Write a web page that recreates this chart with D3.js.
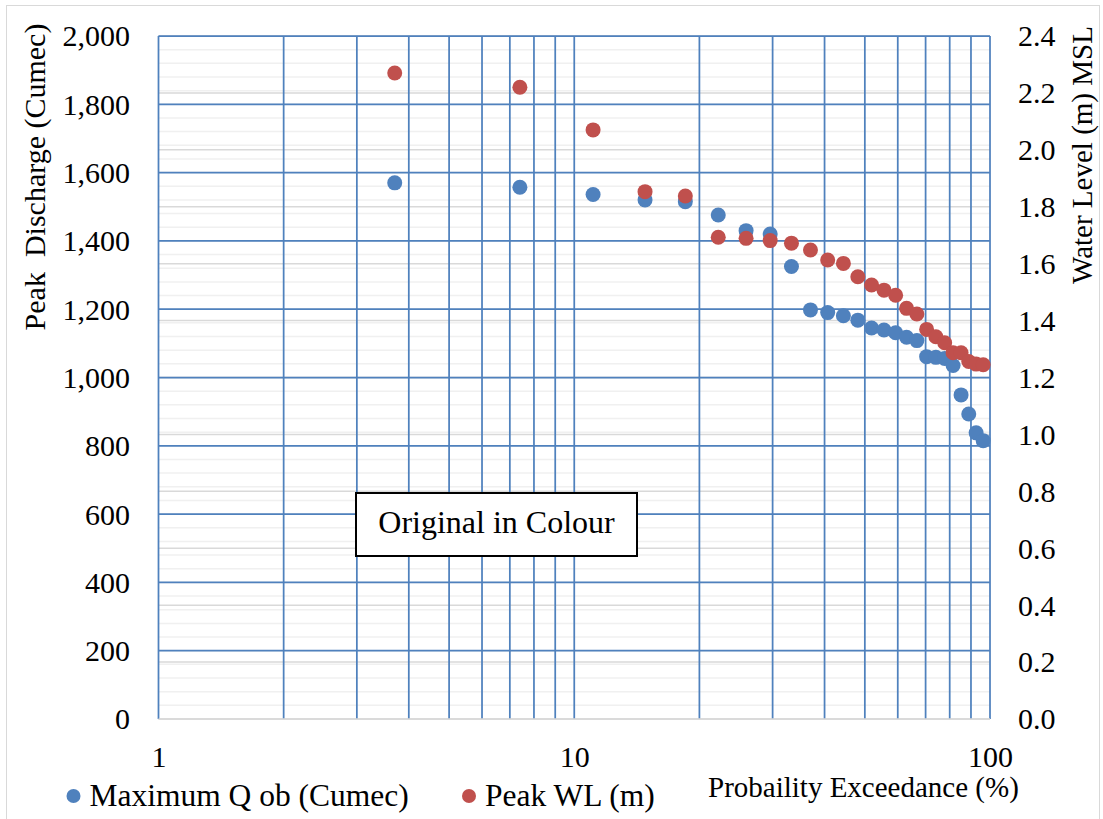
<!DOCTYPE html>
<html lang="en">
<head>
    <meta charset="UTF-8">
    <title>Peak Discharge and Water Level vs Probability Exceedance</title>
    <style>
        body {
            margin: 0;
            background: #fff;
        }
        svg text {
            font-family: "Liberation Serif", "Times New Roman", Times, "DejaVu Serif", serif !important;
            fill: #000;
        }
    </style>
    <script src="https://d3js.org/d3.v7.min.js"></script>
</head>
<body>
    <div id="chart"></div>

    <script>
        // Data
        const exceedance = [3.7, 7.4, 11.1, 14.8, 18.5, 22.2, 25.9, 29.6, 33.3, 37.0, 40.7, 44.4, 48.1,
                            51.9, 55.6, 59.3, 63.0, 66.7, 70.4, 74.1, 77.8, 81.5, 85.2, 88.9, 92.6, 96.3];
        const maxQ = [1570, 1557, 1536, 1520, 1515, 1476, 1430, 1420, 1325, 1198, 1190, 1181, 1168,
                      1145, 1139, 1131, 1118, 1108, 1061, 1059, 1056, 1035, 949, 893, 838, 815];
        const peakWL = [2.27, 2.22, 2.07, 1.853, 1.838, 1.693, 1.689, 1.681, 1.672, 1.648, 1.613, 1.601, 1.554,
                        1.525, 1.507, 1.489, 1.443, 1.423, 1.369, 1.343, 1.322, 1.287, 1.287, 1.256, 1.247, 1.245];

        const xTicks = [1, 10, 100];
        const xMinor = [2, 3, 4, 5, 6, 7, 8, 9, 20, 30, 40, 50, 60, 70, 80, 90];
        const leftTicks = [0, 200, 400, 600, 800, 1000, 1200, 1400, 1600, 1800, 2000];
        const leftMinor = d3.range(0, 2001, 40);
        const rightTicks = [0, 0.2, 0.4, 0.6, 0.8, 1.0, 1.2, 1.4, 1.6, 1.8, 2.0, 2.2, 2.4];

        const width = 1103;
        const height = 819;
        const blue = "#4F81BD";
        const red = "#C0504D";
        const gridBlue = "#4F81BD";
        const serif = '"Liberation Serif", "Times New Roman", Times, "DejaVu Serif", serif';

        const svg = d3.select("#chart")
            .append("svg")
            .attr("width", width)
            .attr("height", height)
            .attr("font-family", serif);

        // chart area border
        svg.append("rect")
            .attr("x", 6.5).attr("y", 5.5)
            .attr("width", 1093).attr("height", 830)
            .attr("fill", "#fff")
            .attr("stroke", "#D9D9D9")
            .attr("stroke-width", 1);

        const x = d3.scaleLog().domain([1, 100]).range([158.5, 990]);
        const yL = d3.scaleLinear().domain([0, 2000]).range([719, 36]);
        const yR = d3.scaleLinear().domain([0, 2.4]).range([719, 36]);

        // minor horizontal gridlines (left axis)
        svg.append("g").selectAll("line")
            .data(leftMinor)
            .enter().append("line")
            .attr("x1", x(1)).attr("x2", x(100))
            .attr("y1", d => yL(d)).attr("y2", d => yL(d))
            .attr("stroke", "#F0F0F0")
            .attr("stroke-width", 1.5);

        // right axis gridlines (gray)
        svg.append("g").selectAll("line")
            .data(rightTicks)
            .enter().append("line")
            .attr("x1", x(1)).attr("x2", x(100))
            .attr("y1", d => yR(d)).attr("y2", d => yR(d))
            .attr("stroke", "#D9D9D9")
            .attr("stroke-width", 1.5);

        // major horizontal gridlines (left axis)
        svg.append("g").selectAll("line")
            .data(leftTicks.filter(d => d > 0))
            .enter().append("line")
            .attr("x1", x(1)).attr("x2", x(100))
            .attr("y1", d => yL(d)).attr("y2", d => yL(d))
            .attr("stroke", gridBlue)
            .attr("stroke-width", 1.75);

        // vertical gridlines
        svg.append("g").selectAll("line")
            .data(xTicks.concat(xMinor))
            .enter().append("line")
            .attr("x1", d => x(d)).attr("x2", d => x(d))
            .attr("y1", yL(0)).attr("y2", yL(2000))
            .attr("stroke", gridBlue)
            .attr("stroke-width", 1.75);

        // x axis line
        svg.append("line")
            .attr("x1", x(1)).attr("x2", x(100))
            .attr("y1", yL(0)).attr("y2", yL(0))
            .attr("stroke", "#D9D9D9")
            .attr("stroke-width", 1.5);

        // axes
        const leftAxis = svg.append("g")
            .attr("transform", "translate(130,0)")
            .call(d3.axisLeft(yL).tickValues(leftTicks).tickFormat(d3.format(",")).tickSize(0).tickPadding(0));
        leftAxis.attr("font-family", serif);
        leftAxis.select(".domain").remove();
        leftAxis.selectAll("text").attr("font-size", 30).attr("dy", "0.33em");

        const rightAxis = svg.append("g")
            .attr("transform", "translate(1018,0)")
            .call(d3.axisRight(yR).tickValues(rightTicks).tickFormat(d3.format(".1f")).tickSize(0).tickPadding(0));
        rightAxis.attr("font-family", serif);
        rightAxis.select(".domain").remove();
        rightAxis.selectAll("text").attr("font-size", 30).attr("dy", "0.33em");

        const bottomAxis = svg.append("g")
            .attr("transform", "translate(0,767)")
            .call(d3.axisBottom(x).tickValues(xTicks).tickFormat(d3.format("d")).tickSize(0).tickPadding(0));
        bottomAxis.attr("font-family", serif);
        bottomAxis.select(".domain").remove();
        bottomAxis.selectAll("text").attr("font-size", 30).attr("dy", 0);

        // points
        svg.append("g").selectAll("circle")
            .data(exceedance.map((p, i) => ({ p: p, v: maxQ[i] })))
            .enter().append("circle")
            .attr("cx", d => x(d.p))
            .attr("cy", d => yL(d.v))
            .attr("r", 7.5)
            .attr("fill", blue);

        svg.append("g").selectAll("circle")
            .data(exceedance.map((p, i) => ({ p: p, v: peakWL[i] })))
            .enter().append("circle")
            .attr("cx", d => x(d.p))
            .attr("cy", d => yR(d.v))
            .attr("r", 7.5)
            .attr("fill", red);

        // axis titles
        svg.append("text")
            .attr("transform", "translate(45,177) rotate(-90)")
            .attr("text-anchor", "middle")
            .attr("font-size", 30)
            .style("white-space", "pre")
            .text("Peak  Discharge (Cumec)");

        svg.append("text")
            .attr("transform", "translate(1092,155) rotate(-90)")
            .attr("text-anchor", "middle")
            .attr("font-size", 29)
            .text("Water Level (m) MSL");

        svg.append("text")
            .attr("x", 708)
            .attr("y", 797)
            .attr("font-size", 29)
            .text("Probaility Exceedance (%)");

        // legend
        const legend = [
            { name: "Maximum Q ob (Cumec)", color: blue, x: 73.5 },
            { name: "Peak WL (m)", color: red, x: 469 }
        ];
        legend.forEach(d => {
            svg.append("circle")
                .attr("cx", d.x).attr("cy", 796)
                .attr("r", 7)
                .attr("fill", d.color);
            svg.append("text")
                .attr("x", d.x + 16)
                .attr("y", 806)
                .attr("font-size", 31.5)
                .text(d.name);
        });

        // text box
        svg.append("rect")
            .attr("x", 356).attr("y", 493)
            .attr("width", 281).attr("height", 63)
            .attr("fill", "#fff")
            .attr("stroke", "#000")
            .attr("stroke-width", 2);
        svg.append("text")
            .attr("x", 496.5)
            .attr("y", 533)
            .attr("text-anchor", "middle")
            .attr("font-size", 32)
            .text("Original in Colour");
    </script>
</body>
</html>
